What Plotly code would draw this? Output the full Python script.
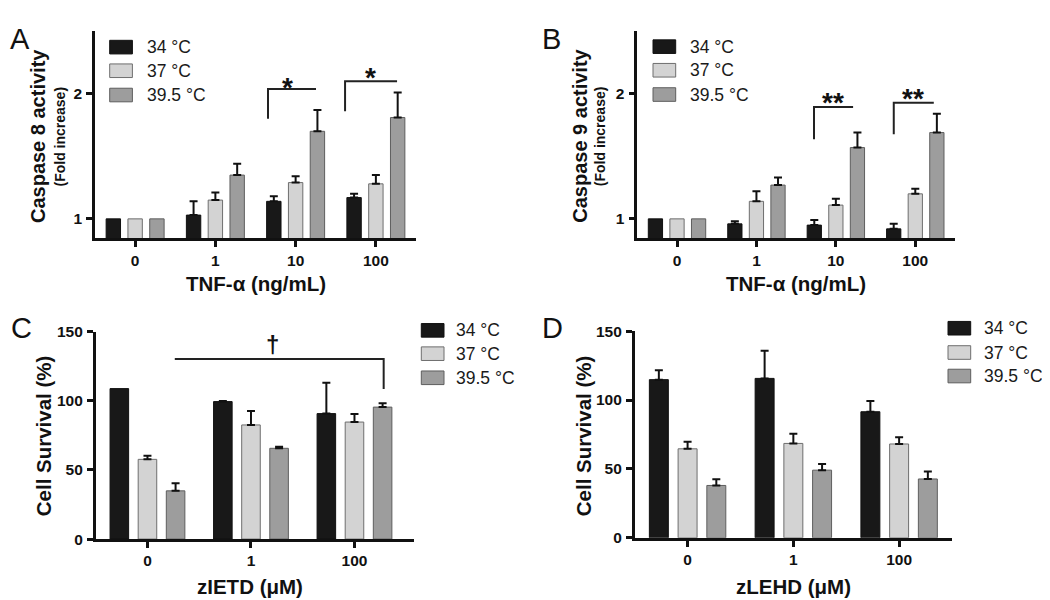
import numpy as np
import plotly.graph_objects as go

W, H = 1050, 600
nan = np.nan

# ---------------- data ----------------
series_names = ["34 °C", "37 °C", "39.5 °C"]
tnf_categories = ["0", "1", "10", "100"]
inhib_categories = ["0", "1", "100"]

# Panel A: Caspase 8 activity (fold increase)
casp8_34 = [1.00, 1.03, 1.14, 1.17]
casp8_37 = [1.00, 1.15, 1.29, 1.28]
casp8_395 = [1.00, 1.35, 1.70, 1.81]
casp8_34_err = [nan, 0.11, 0.04, 0.03]
casp8_37_err = [nan, 0.06, 0.05, 0.07]
casp8_395_err = [nan, 0.09, 0.17, 0.20]

# Panel B: Caspase 9 activity (fold increase)
casp9_34 = [1.00, 0.96, 0.95, 0.92]
casp9_37 = [1.00, 1.14, 1.11, 1.20]
casp9_395 = [1.00, 1.27, 1.57, 1.69]
casp9_34_err = [nan, 0.02, 0.04, 0.04]
casp9_37_err = [nan, 0.08, 0.05, 0.04]
casp9_395_err = [nan, 0.06, 0.12, 0.15]

# Panel C: cell survival with zIETD (%)
zietd_34 = [108.9, 99.5, 90.8]
zietd_37 = [57.7, 82.6, 84.7]
zietd_395 = [34.9, 65.7, 95.5]
zietd_34_err = [nan, 0.4, 22.3]
zietd_37_err = [2.6, 10.1, 5.9]
zietd_395_err = [5.5, 1.2, 2.8]

# Panel D: cell survival with zLEHD (%)
zlehd_34 = [114.8, 115.7, 91.5]
zlehd_37 = [64.6, 68.5, 68.1]
zlehd_395 = [38.0, 49.1, 42.7]
zlehd_34_err = [6.8, 20.0, 7.8]
zlehd_37_err = [5.1, 7.1, 4.9]
zlehd_395_err = [4.5, 4.4, 5.4]

# ---------------- styling ----------------
FONT = "Arial, Liberation Sans, Helvetica, sans-serif"
fill_colors = ["#181818", "#d3d3d3", "#9d9d9d"]
edge_colors = ["#101010", "#6e6e6e", "#5e5e5e"]


def px(x):
    return x / W


def py(y):
    return 1 - y / H


panels = [
    dict(key="A", xa="x", ya="y", cats=tnf_categories,
         vals=[casp8_34, casp8_37, casp8_395],
         errs=[casp8_34_err, casp8_37_err, casp8_395_err],
         xdom=(87, 408), ydom=(14, 227.7), xrange=[-0.5, 3.5],
         yrange=[0.845, 2.505], ytick=[1, 2]),
    dict(key="B", xa="x2", ya="y2", cats=tnf_categories,
         vals=[casp9_34, casp9_37, casp9_395],
         errs=[casp9_34_err, casp9_37_err, casp9_395_err],
         xdom=(629.3, 947), ydom=(14, 227.7), xrange=[-0.5, 3.5],
         yrange=[0.845, 2.505], ytick=[1, 2]),
    dict(key="C", xa="x3", ya="y3", cats=inhib_categories,
         vals=[zietd_34, zietd_37, zietd_395],
         errs=[zietd_34_err, zietd_37_err, zietd_395_err],
         xdom=(87.7, 406), ydom=(324, 537.3), xrange=[-0.5, 2.575],
         yrange=[0, 150], ytick=[0, 50, 100, 150]),
    dict(key="D", xa="x4", ya="y4", cats=inhib_categories,
         vals=[zlehd_34, zlehd_37, zlehd_395],
         errs=[zlehd_34_err, zlehd_37_err, zlehd_395_err],
         xdom=(626.7, 944), ydom=(323.3, 536), xrange=[-0.5, 2.5],
         yrange=[0, 150], ytick=[0, 50, 100, 150]),
]

fig = go.Figure()
layout_axes = {}

for p in panels:
    pos = list(range(len(p["cats"])))
    for s in range(3):
        err = np.array(p["errs"][s], dtype=float)
        errminus = np.where(np.isnan(err), np.nan, 0.0)
        fig.add_trace(go.Bar(
            x=pos, y=p["vals"][s], name=series_names[s],
            xaxis=p["xa"], yaxis=p["ya"], showlegend=False,
            marker=dict(color=fill_colors[s],
                        line=dict(color=edge_colors[s], width=1)),
            error_y=dict(type="data", symmetric=False, array=err,
                         arrayminus=errminus, color="#111111",
                         thickness=2, width=4),
        ))
    xname = "xaxis" if p["xa"] == "x" else "xaxis" + p["xa"][1:]
    yname = "yaxis" if p["ya"] == "y" else "yaxis" + p["ya"][1:]
    common = dict(showline=True, linecolor="#111111", linewidth=2.5,
                  ticks="outside", ticklen=6, tickwidth=2.5,
                  tickcolor="#111111", showgrid=False, zeroline=False,
                  fixedrange=True,
                  tickfont=dict(family=FONT, size=15.5, color="#111111",
                                weight="bold"))
    layout_axes[xname] = dict(domain=[px(p["xdom"][0]), px(p["xdom"][1])],
                              anchor=p["ya"], range=p["xrange"],
                              tickmode="array", tickvals=pos,
                              ticktext=p["cats"], **common)
    layout_axes[yname] = dict(domain=[py(p["ydom"][1]), py(p["ydom"][0])],
                              anchor=p["xa"], range=p["yrange"],
                              tickmode="array", tickvals=p["ytick"],
                              ticktext=[str(t) for t in p["ytick"]],
                              ticklabelstandoff=1, **common)

shapes = []
annotations = []

# ---------- legends (drawn per panel) ----------
legend_layouts = [
    (101.7, 136.5, [31, 55.3, 80.3]),
    (645.0, 679.5, [30.5, 54.8, 79.8]),
    (413.3, 445.5, [322.5, 346.5, 371.3]),
    (940.0, 973.8, [320.3, 345.3, 369.5]),
]
for sx, tx, rows in legend_layouts:
    for s, yc in enumerate(rows):
        shapes.append(dict(type="rect", xref="paper", yref="paper",
                           x0=px(sx), x1=px(sx + 22.7),
                           y0=py(yc + 7), y1=py(yc - 7),
                           fillcolor=fill_colors[s],
                           line=dict(color=edge_colors[s], width=1)))
        annotations.append(dict(text=series_names[s], xref="paper",
                                yref="paper", x=px(tx), y=py(yc),
                                xanchor="left", yanchor="middle",
                                showarrow=False,
                                font=dict(family=FONT, size=17.5,
                                          color="#1a1a1a")))

# ---------- panel letters ----------
for letter, (lx, ly) in zip("ABCD", [(0, 23), (532, 23), (1, 320), (532, 320)]):
    annotations.append(dict(text=letter, xref="paper", yref="paper",
                            x=px(lx), y=py(ly), xanchor="left",
                            yanchor="middle", showarrow=False,
                            font=dict(family=FONT, size=29, color="#111111")))

# ---------- axis titles ----------
bold = lambda s: dict(family=FONT, size=s, color="#111111", weight="bold")
ytitles = [
    ("Caspase 8 activity", 30, 122.5, 20),
    ("(Fold increase)", 52, 123, 14),
    ("Caspase 9 activity", 571.7, 122.5, 20),
    ("(Fold increase)", 591.7, 123, 14),
    ("Cell Survival (%)", 35, 431.5, 20.5),
    ("Cell Survival (%)", 575, 431.5, 20.5),
]
for txt, x, y, s in ytitles:
    annotations.append(dict(text=txt, xref="paper", yref="paper",
                            x=px(x), y=py(y), textangle=-90,
                            xanchor="center", yanchor="middle",
                            showarrow=False, font=bold(s)))

xtitles = [
    ("TNF-α (ng/mL)", 248, 274.5),
    ("TNF-α (ng/mL)", 788, 274.5),
    ("zIETD (μM)", 241.7, 586),
    ("zLEHD (μM)", 785, 586),
]
for txt, x, y in xtitles:
    annotations.append(dict(text=txt, xref="paper", yref="paper",
                            x=px(x), y=py(y), xanchor="center",
                            yanchor="middle", showarrow=False,
                            font=bold(20.5)))

# ---------- significance brackets ----------
# (xref, yref, x_left, x_right, y_top, y_end, end_side, label, label_x, label_y, size, yshift)
brackets = [
    ("x", "y", 1.656, 2.254, 2.039, 1.80, "left", "*", 1.90, 2.109, 28, -7),
    ("x", "y", 2.616, 3.264, 2.100, 1.86, "left", "*", 2.93, 2.186, 28, -7),
    ("x2", "y2", 1.725, 2.217, 1.894, 1.637, "left", "**", 1.965, 1.99, 28, -7),
    ("x2", "y2", 2.729, 3.233, 1.928, 1.676, "left", "**", 2.97, 2.018, 28, -7),
    ("x3", "y3", 0.264, 2.282, 130.3, 108.7, "right", "†", 1.21, 141, 24, 0),
]
for xr, yr, xl, xrr, yt, ye, side, lab, lx, ly, fs, ysh in brackets:
    if side == "left":
        path = f"M {xl},{ye} L {xl},{yt} L {xrr},{yt}"
    else:
        path = f"M {xl},{yt} L {xrr},{yt} L {xrr},{ye}"
    shapes.append(dict(type="path", xref=xr, yref=yr, path=path,
                       line=dict(color="#222222", width=2)))
    annotations.append(dict(text=lab, xref=xr, yref=yr, x=lx, y=ly,
                            xanchor="center", yanchor="middle",
                            yshift=ysh, showarrow=False, font=bold(fs)))

fig.update_layout(
    width=W, height=H,
    margin=dict(l=0, r=0, t=0, b=0),
    paper_bgcolor="white", plot_bgcolor="white",
    barmode="group", bargap=0.185, bargroupgap=0.34,
    showlegend=False,
    shapes=shapes, annotations=annotations,
    font=dict(family=FONT, color="#111111"),
    **layout_axes,
)

fig.write_html("out.html")
